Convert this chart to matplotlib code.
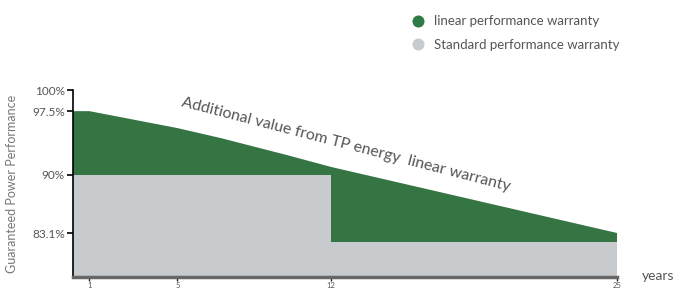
import numpy as np
import matplotlib
matplotlib.use("Agg")
import matplotlib.pyplot as plt

plt.rcParams['font.family'] = ['Lato', 'DejaVu Sans']

# linear warranty curve
years = [0, 1, 5, 7, 10, 12, 15, 20, 25]
linear = [97.5, 97.5, 95.5, 94.3, 92.3, 90.9, 89.1, 86.1, 83.1]

# standard step warranty
std_years = [0, 12, 25]
standard = [90, 82, 82]

yticks = [100, 97.5, 90, 83.1]
ytick_labels = ["100%", "97.5%", "90%", "83.1%"]
xticks = [1, 5, 12, 25]

green = "#357443"
grey = "#c8cbce"
text_col = "#555555"

fig = plt.figure(figsize=(6.76, 2.88), dpi=100)
ax = fig.add_axes([73 / 676, 11 / 288, 544 / 676, 187 / 288])

ax.fill_between(years, linear, 0, color=green, lw=0, zorder=1)
ax.fill_between(std_years, standard, 0, step="post", color=grey, lw=0, zorder=2)

ax.set_xlim(0.25, 25)
ax.set_ylim(77.9, 100)

ax.set_yticks(yticks)
ax.set_yticklabels(ytick_labels, fontsize=8.5, color=text_col)
ax.set_xticks(xticks)
ax.set_xticklabels([str(x) for x in xticks], fontsize=5.5, color=text_col)
ax.tick_params(axis="y", length=4, width=1.2, color="black", pad=2)
ax.tick_params(axis="x", length=3, width=1, color="#222222", pad=0.5)

for s in ["top", "right"]:
    ax.spines[s].set_visible(False)
ax.spines["left"].set_color("black")
ax.spines["left"].set_linewidth(1.2)
ax.spines["left"].set_zorder(5)
ax.spines["bottom"].set_color("#666666")
ax.spines["bottom"].set_linewidth(2.5)
ax.spines["bottom"].set_zorder(5)

ax.set_ylabel("Guaranteed Power Performance", fontsize=9, color="#777777")
ax.yaxis.set_label_coords(-0.102, 0.5)

ax.text(5.15, 98.1, "Additional value from TP energy  linear warranty",
        rotation=-14.5, rotation_mode="anchor", ha="left", va="baseline",
        fontsize=11.4, color=text_col, zorder=6)

# legend and axis title drawn in pixel coords on an overlay
lax = fig.add_axes([0, 0, 1, 1], facecolor="none")
lax.set_xlim(0, 676)
lax.set_ylim(288, 0)
lax.axis("off")
lax.scatter([418], [21], s=75, color="#2e7b48", lw=0)
lax.scatter([418], [44], s=75, color=grey, lw=0)
lax.text(434, 21, "linear performance warranty", fontsize=9.5, color=text_col, va="center")
lax.text(434, 45, "Standard performance warranty", fontsize=9.5, color=text_col, va="center")
lax.text(658, 276, "years", fontsize=10, color=text_col, ha="center", va="center")

fig.savefig("out.png", dpi=100)
